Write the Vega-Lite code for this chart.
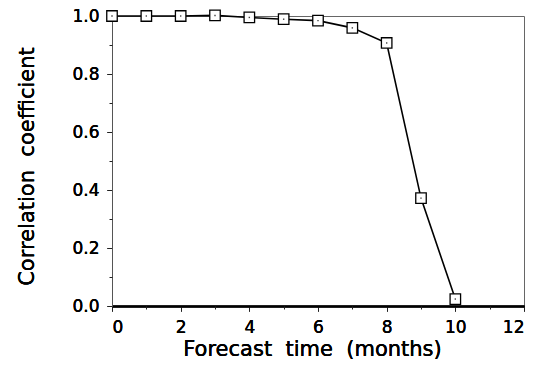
{
  "$schema": "https://vega.github.io/schema/vega-lite/v6.json",
  "width": 412,
  "height": 290,
  "autosize": "none",
  "padding": {"left": 112, "top": 16, "right": 13, "bottom": 63},
  "background": "white",
  "config": {
    "view": {"stroke": "#666", "strokeWidth": 1},
    "axis": {
      "labelFont": "DejaVu Sans",
      "titleFont": "DejaVu Sans",
      "labelFontSize": 17,
      "titleFontSize": 21,
      "titleFontWeight": "normal",
      "labelColor": "black",
      "titleColor": "black",
      "grid": false,
      "tickColor": "#222",
      "domainColor": "#555",
      "tickSize": 5
    }
  },
  "data": {
    "values": [
      {"t": 0, "r": 1.0},
      {"t": 1, "r": 1.0},
      {"t": 2, "r": 1.0},
      {"t": 3, "r": 1.002},
      {"t": 4, "r": 0.995},
      {"t": 5, "r": 0.989},
      {"t": 6, "r": 0.984},
      {"t": 7, "r": 0.959},
      {"t": 8, "r": 0.907},
      {"t": 9, "r": 0.372},
      {"t": 10, "r": 0.024}
    ]
  },
  "encoding": {
    "x": {
      "field": "t",
      "type": "quantitative",
      "scale": {"domain": [0, 12], "nice": false, "zero": false},
      "axis": {
        "orient": "bottom",
        "values": [0, 2, 4, 6, 8, 10, 12],
        "title": "Forecast\u00a0 time\u00a0 (months)",
        "labelPadding": 8,
        "titlePadding": 3,
        "titleX": 200,
        "domainColor": "black",
        "domainWidth": 2
      }
    },
    "y": {
      "field": "r",
      "type": "quantitative",
      "scale": {"domain": [0, 1], "nice": false},
      "axis": {
        "orient": "left",
        "values": [0, 0.2, 0.4, 0.6, 0.8, 1.0],
        "format": ".1f",
        "title": "Correlation\u00a0 coefficient",
        "labelPadding": 8,
        "titlePadding": 34,
        "titleY": 150
      }
    }
  },
  "layer": [
    {
      "mark": {"type": "line", "color": "black", "strokeWidth": 1.6}
    },
    {
      "mark": {"type": "point", "shape": "square", "filled": false, "fill": "white", "stroke": "black", "strokeWidth": 1.3, "size": 110, "opacity": 1}
    },
    {
      "mark": {"type": "point", "shape": "square", "filled": true, "color": "#444", "size": 2, "opacity": 1}
    },
    {
      "mark": {"type": "point", "opacity": 0},
      "encoding": {
        "x": {
          "field": "t",
          "type": "quantitative",
          "scale": {"domain": [0, 12], "nice": false, "zero": false},
          "axis": {"orient": "bottom", "values": [1, 3, 5, 7, 9, 11], "labels": false, "title": null, "tickSize": 3, "domain": false}
        },
        "y": {
          "field": "r",
          "type": "quantitative",
          "scale": {"domain": [0, 1], "nice": false},
          "axis": {"orient": "left", "values": [0.1, 0.3, 0.5, 0.7, 0.9], "labels": false, "title": null, "tickSize": 3, "domain": false}
        }
      }
    }
  ],
  "resolve": {"axis": {"x": "independent", "y": "independent"}}
}
